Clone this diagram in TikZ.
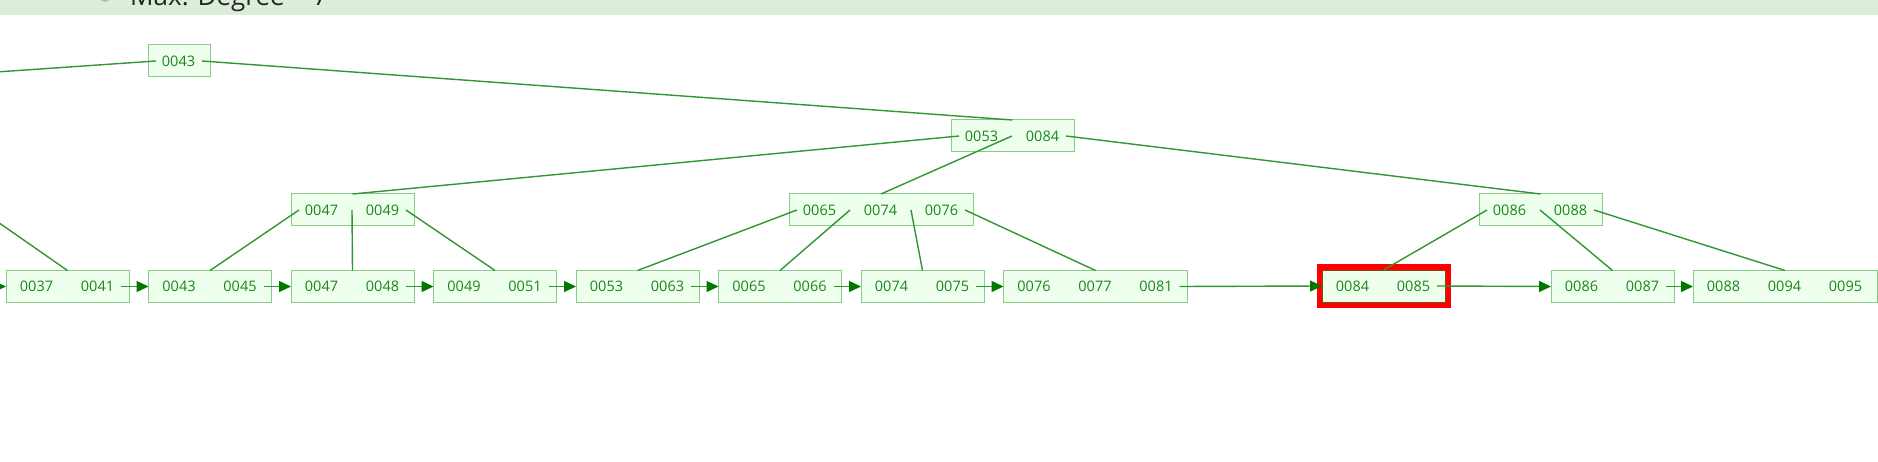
\documentclass[tikz,border=0pt]{standalone}
\usepackage{fontspec}
\setmainfont{Open Sans}
\usetikzlibrary{calc,arrows.meta}
\definecolor{band}{RGB}{220,237,218}
\definecolor{boxfill}{RGB}{238,255,238}
\definecolor{boxborder}{RGB}{135,205,135}
\definecolor{keygreen}{RGB}{25,135,25}
\definecolor{linkgreen}{RGB}{50,150,50}
\definecolor{tipgreen}{RGB}{0,120,0}
\definecolor{hlborder}{RGB}{120,80,20}
\definecolor{hlred}{RGB}{255,0,0}
\newcommand{\btnode}[5]{%
  \node[bbox, minimum width={61*#4+1}, anchor=north west] (#1) at (#2,#3) {};
  \foreach \k [count=\i from 0] in {#5}{
    \node[keytext] (#1-\i) at ($(#1.west)+({30.5+61*\i},0)$) {\k};}%
}
\tikzset{
  bbox/.style={draw=boxborder, fill=boxfill, line width=1pt, minimum height=32, inner sep=0pt, outer sep=0pt, rectangle},
  keytext/.style={text=keygreen, font=\fontsize{14.5}{16}\selectfont, inner sep=0pt},
  conn/.style={draw=linkgreen, line width=1.4pt},
  nextarrow/.style={draw=linkgreen, line width=1.4pt, -{Triangle[length=12pt,width=11pt,fill=tipgreen,color=tipgreen]}},
}
\begin{document}
\begin{tikzpicture}[x=1pt,y=-1pt]
\useasboundingbox (0,0) rectangle (1878,462);
\fill[white] (0,0) rectangle (1878,462);
% header band
\fill[band] (0,-20) rectangle (1878,15.5);
\fill[gray!55] (105,-2.5) circle (4.5);
\node[anchor=base west, font=\fontsize{26}{30}\selectfont, text=black!85, inner sep=0pt] (hdr) at (130,6) {Max. Degree = 7};
% tree nodes
\btnode{r}{148}{45}{1}{0043}
\btnode{a}{951}{120}{2}{0053,0084}
\btnode{b1}{291}{194}{2}{0047,0049}
\btnode{b2}{789}{194}{3}{0065,0074,0076}
\btnode{b3}{1479}{194}{2}{0086,0088}
\btnode{l1}{6}{270.5}{2}{0037,0041}
\btnode{l2}{148.5}{270.5}{2}{0043,0045}
\btnode{l3}{291}{270.5}{2}{0047,0048}
\btnode{l4}{433.5}{270.5}{2}{0049,0051}
\btnode{l5}{576}{270.5}{2}{0053,0063}
\btnode{l6}{718.5}{270.5}{2}{0065,0066}
\btnode{l7}{861}{270.5}{2}{0074,0075}
\btnode{l8}{1003.5}{270.5}{3}{0076,0077,0081}
\begin{scope}[bbox/.append style={draw=hlborder}]
\btnode{l9}{1322}{270}{2}{0084,0085}
\end{scope}
\btnode{l10}{1551}{270.5}{2}{0086,0087}
\btnode{l11}{1693}{270.5}{3}{0088,0094,0095}
% highlight
\draw[hlred, line width=5pt] ($(l9.north west)+(-3,-3)$) rectangle ($(l9.south east)+(3,3)$);
% off-screen ends
\coordinate (offL) at (-700,120);
\coordinate (offP) at (-18,211);
\coordinate (offLeaf) at ($(l1.west)+(-30,0)$);
% tree edges
\draw[conn] ($(r.west)+(8,0)$) -- (offL);
\draw[conn] ($(r.east)+(-8,0)$) -- (a.north);
\draw[conn] ($(a.west)+(8,0)$) -- (b1.north);
\draw[conn] ($(a.west)+(61,0)$) -- (b2.north);
\draw[conn] ($(a.east)+(-8,0)$) -- (b3.north);
\draw[conn] (offP) -- (l1.north);
\draw[conn] ($(b1.west)+(8,0)$) -- (l2.north);
\draw[conn] ($(b1.west)+(61,0)$) -- (l3.north);
\draw[conn] ($(b1.east)+(-8,0)$) -- (l4.north);
\draw[conn] ($(b2.west)+(8,0)$) -- (l5.north);
\draw[conn] ($(b2.west)+(61,0)$) -- (l6.north);
\draw[conn] ($(b2.west)+(122,0)$) -- (l7.north);
\draw[conn] ($(b2.east)+(-8,0)$) -- (l8.north);
\draw[conn] ($(b3.west)+(8,0)$) -- (l9.north);
\draw[conn] ($(b3.west)+(61,0)$) -- (l10.north);
\draw[conn] ($(b3.east)+(-8,0)$) -- (l11.north);
% leaf links
\draw[nextarrow] (offLeaf) -- (l1.west);
\draw[nextarrow] ($(l1.east)+(-8,0)$) -- (l2.west);
\draw[nextarrow] ($(l2.east)+(-8,0)$) -- (l3.west);
\draw[nextarrow] ($(l3.east)+(-8,0)$) -- (l4.west);
\draw[nextarrow] ($(l4.east)+(-8,0)$) -- (l5.west);
\draw[nextarrow] ($(l5.east)+(-8,0)$) -- (l6.west);
\draw[nextarrow] ($(l6.east)+(-8,0)$) -- (l7.west);
\draw[nextarrow] ($(l7.east)+(-8,0)$) -- (l8.west);
\draw[nextarrow] ($(l8.east)+(-8,0)$) -- (l9.west);
\draw[nextarrow] ($(l9.east)+(-8,0)$) -- (l10.west);
\draw[nextarrow] ($(l10.east)+(-8,0)$) -- (l11.west);
\end{tikzpicture}
\end{document}
